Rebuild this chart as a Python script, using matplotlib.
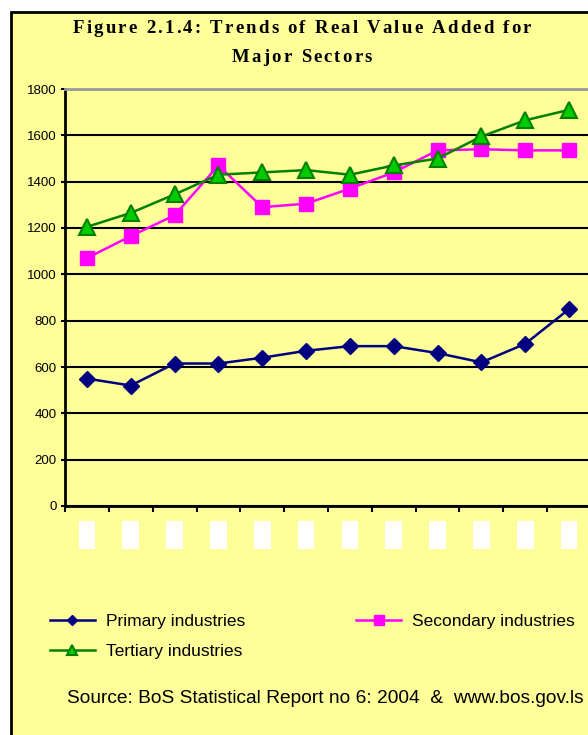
import matplotlib
matplotlib.use('Agg')
import matplotlib.pyplot as plt
from matplotlib.patches import Rectangle
import numpy as np

# values (12 unlabeled periods)
periods = list(range(12))
primary = [550, 520, 615, 615, 640, 670, 690, 690, 660, 620, 700, 850]
secondary = [1070, 1165, 1255, 1470, 1290, 1305, 1370, 1440, 1535, 1540, 1535, 1535]
tertiary = [1205, 1265, 1345, 1430, 1440, 1450, 1430, 1470, 1500, 1595, 1665, 1710]
yticks = [0, 200, 400, 600, 800, 1000, 1200, 1400, 1600, 1800]

W, H = 588, 735
fig = plt.figure(figsize=(W / 100, H / 100), dpi=100)
fig.patch.set_facecolor('white')
plt.rcParams['font.family'] = ['Liberation Sans', 'DejaVu Sans']

yellow = '#FFFF99'
fig.patches.append(Rectangle((11 / W, -0.1), 1.0, 1 - 12 / H + 0.1,
                             transform=fig.transFigure, facecolor=yellow,
                             edgecolor='black', linewidth=2, zorder=-5))

ax = fig.add_axes([65 / W, 1 - 506 / H, 526 / W, (506 - 89) / H])
ax.set_facecolor(yellow)

x = np.array(periods) + 0.5
ax.plot(x, primary, color='#000080', lw=1.8, marker='D', ms=8,
        mfc='#000080', mec='#000080', label='Primary industries', zorder=4)
ax.plot(x, secondary, color='#FF00FF', lw=1.8, marker='s', ms=10,
        mfc='#FF00FF', mec='#FF00FF', label='Secondary industries', zorder=4)
ax.plot(x, tertiary, color='#008000', lw=1.8, marker='^', ms=11,
        mfc='#00CC00', mec='#008000', mew=1.5, label='Tertiary industries', zorder=5)

ax.set_xlim(0, 12)
ax.set_ylim(0, 1800)
ax.set_yticks(yticks)
ax.set_xticks(range(13))
ax.set_xticklabels([])
ax.grid(axis='y', color='black', lw=1.5)
ax.set_axisbelow(True)
ax.tick_params(axis='y', labelsize=9.5, length=3, width=1.5, pad=3)
ax.tick_params(axis='x', length=4, width=1.5, direction='out')
for s in ['left', 'bottom']:
    ax.spines[s].set_linewidth(2)
ax.spines['top'].set_color('#999999')
ax.spines['top'].set_linewidth(2)
ax.spines['right'].set_visible(False)

# hidden category labels appear as white boxes
for xi in x:
    ax.add_patch(Rectangle((xi - 0.19, -0.103), 0.38, 0.067,
                           transform=ax.get_xaxis_transform(),
                           facecolor='white', edgecolor='none', clip_on=False))


def spaced_text(s, xc, yc, gap, **kw):
    # letter-spaced line, centred on (xc, yc) in pixels
    r = fig.canvas.get_renderer()
    widths = []
    for ch in s:
        t = fig.text(0, 0, ch.replace(' ', '\u00a0'), **kw)
        widths.append(t.get_window_extent(r).width)
        t.remove()
    total = sum(widths) + gap * (len(s) - 1)
    xp = xc - total / 2
    for ch, w in zip(s, widths):
        if ch != ' ':
            fig.text(xp / W, 1 - yc / H, ch, ha='left', va='center', **kw)
        xp += w + gap


tkw = dict(family='Liberation Serif', weight='bold', fontsize=13.5)
spaced_text('Figure 2.1.4: Trends of Real Value Added for', 302, 28.5, 2.2, **tkw)
spaced_text('Major Sectors', 302, 58, 2.2, **tkw)

h, l = ax.get_legend_handles_labels()
order = [0, 2, 1]
fig.legend([h[i] for i in order], [l[i] for i in order], ncol=2,
           loc='upper left', bbox_to_anchor=(34 / W, 1 - 598 / H),
           frameon=False, fontsize=12.5, handlelength=2.6, handletextpad=0.63,
           columnspacing=6.4, labelspacing=0.88, markerscale=0.7)

fig.text(67 / W, 1 - 698.5 / H,
         'Source: BoS Statistical Report no 6: 2004  &  www.bos.gov.ls',
         fontsize=13.8, ha='left', va='center')

fig.savefig('out.png', dpi=100)
